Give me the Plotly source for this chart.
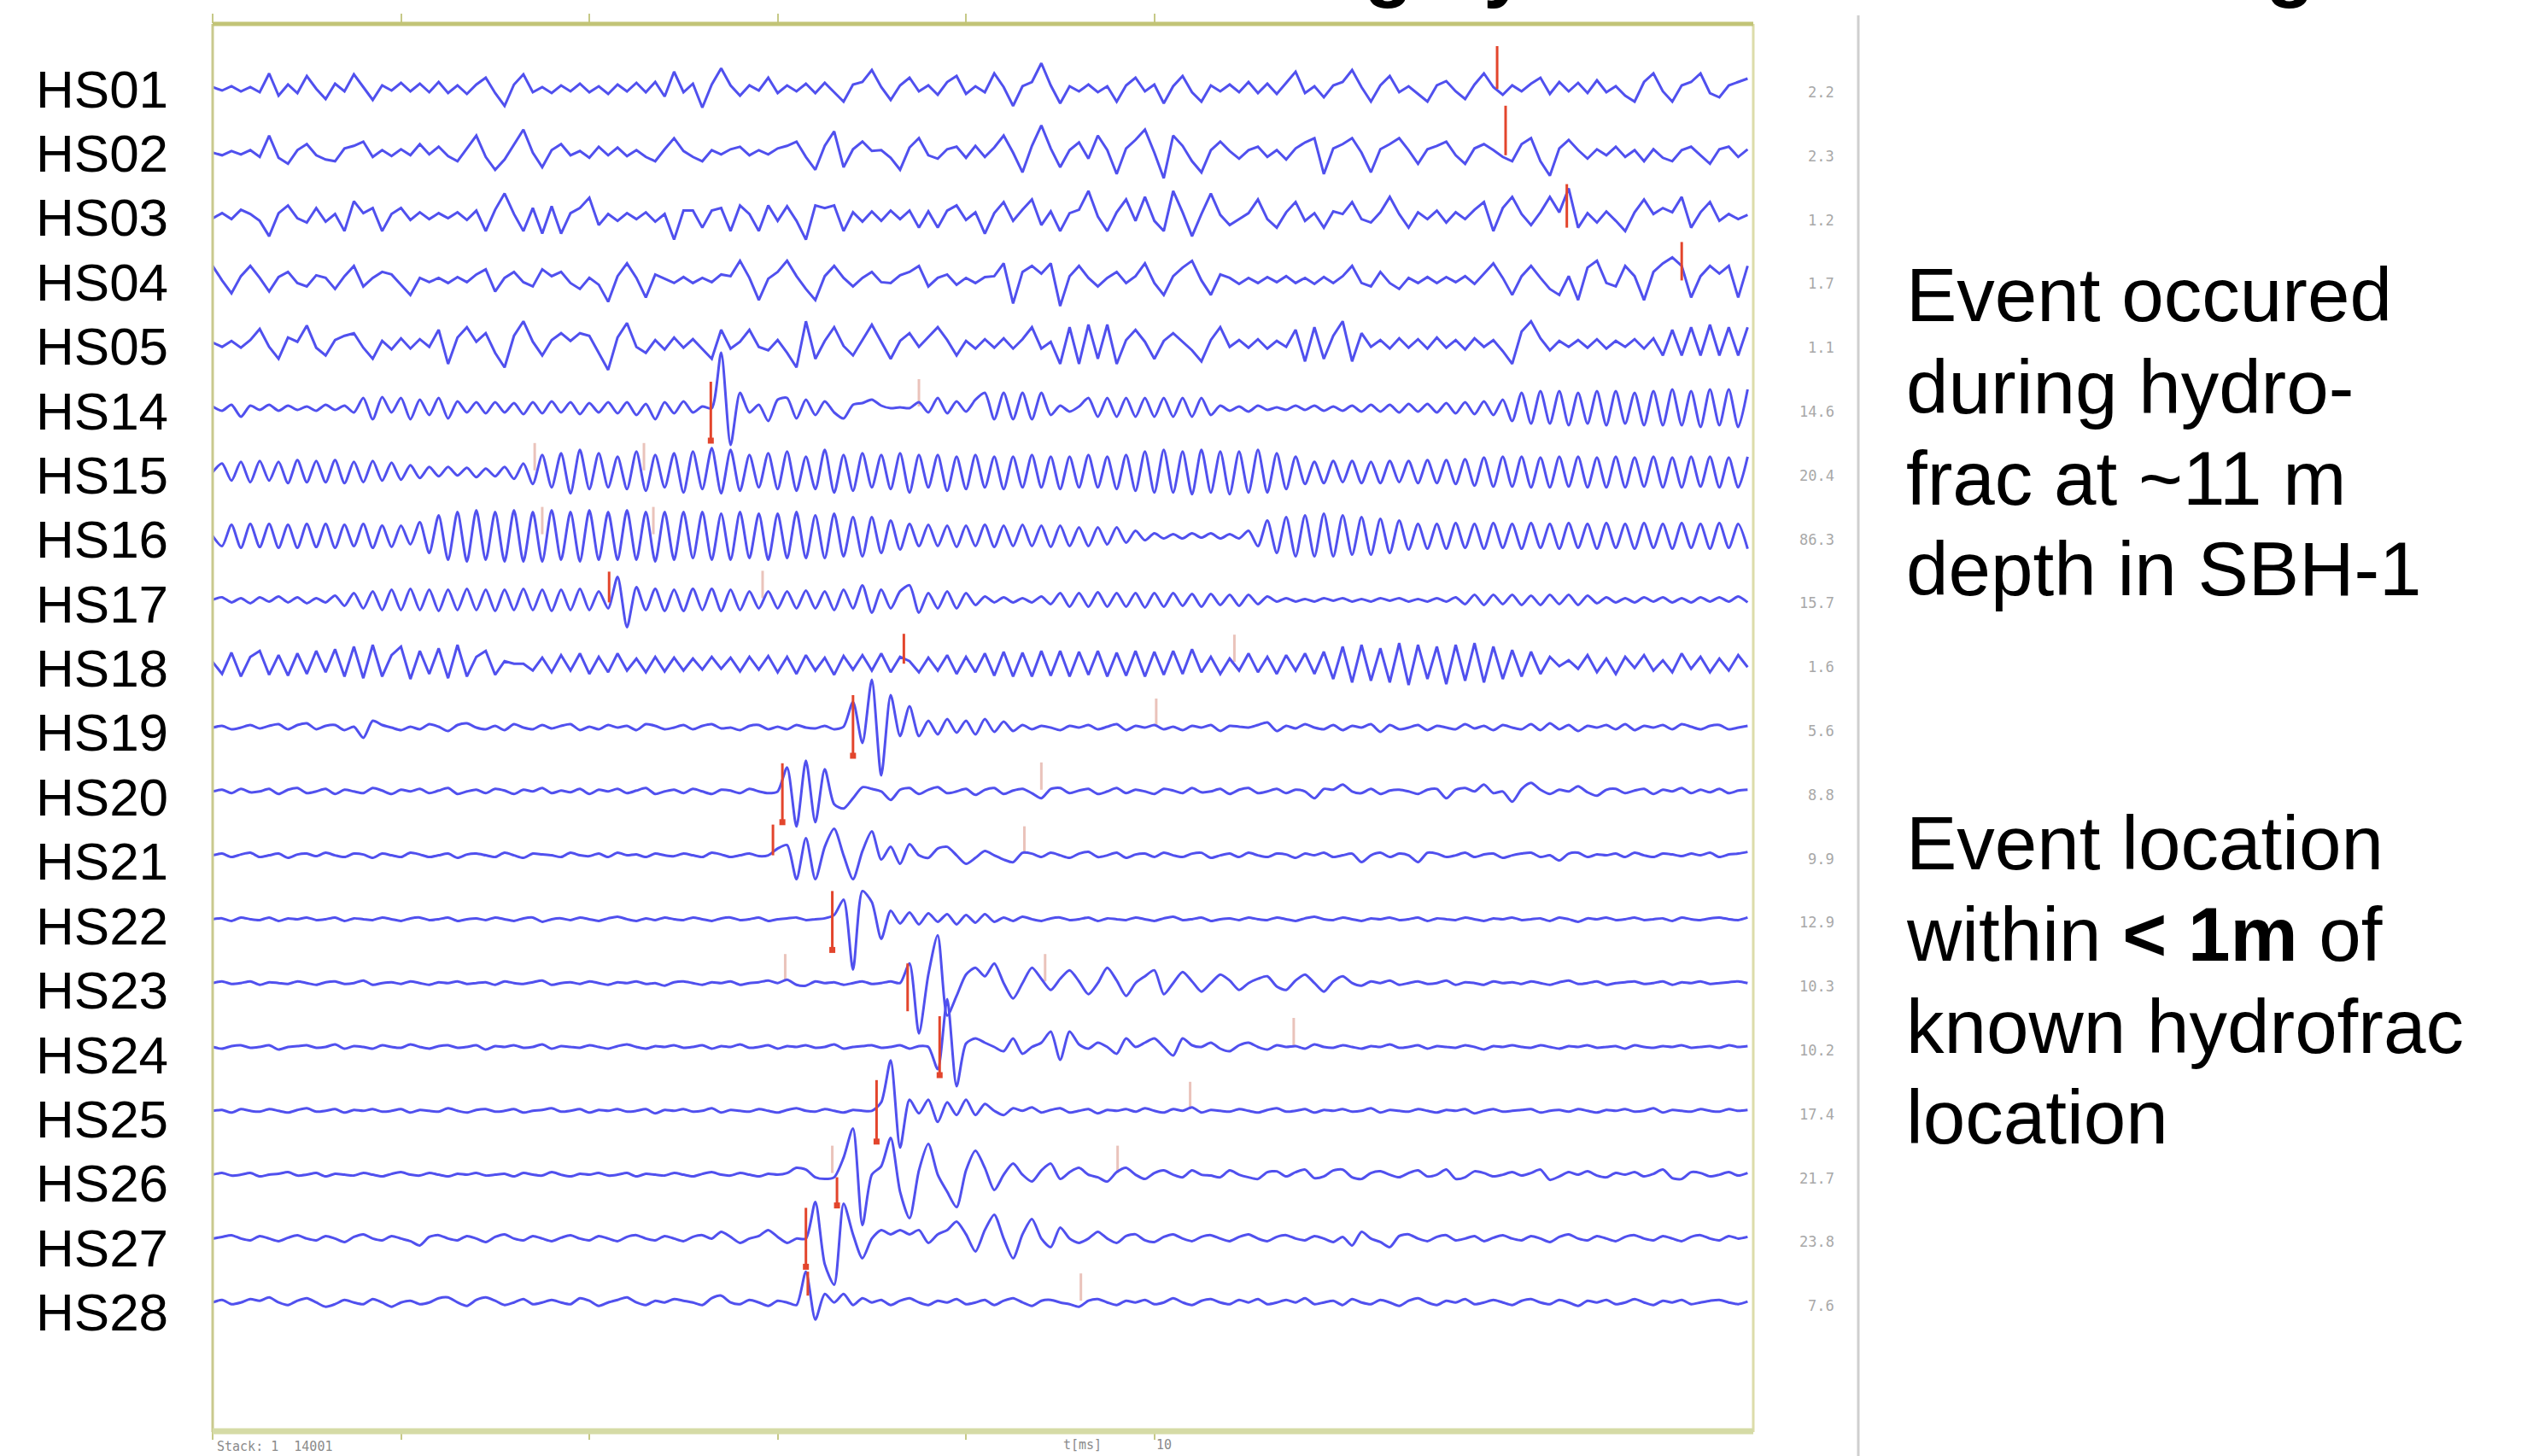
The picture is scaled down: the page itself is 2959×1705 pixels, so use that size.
import numpy as np
import plotly.graph_objects as go

W, H = 2959, 1705

# ---------------------------------------------------------------- data
CHANNELS = ["HS01", "HS02", "HS03", "HS04", "HS05", "HS14", "HS15", "HS16", "HS17", "HS18",
            "HS19", "HS20", "HS21", "HS22", "HS23", "HS24", "HS25", "HS26", "HS27", "HS28"]
AMP_LABELS = ["2.2", "2.3", "1.2", "1.7", "1.1", "14.6", "20.4", "86.3", "15.7", "1.6",
              "5.6", "8.8", "9.9", "12.9", "10.3", "10.2", "17.4", "21.7", "23.8", "7.6"]
T_END = 16.3      # time of last sample, ms
X_MAX = 16.36     # right edge of the record, ms
TIME_TICKS = [0, 2, 4, 6, 8, 10]

# trace samples, 0.1 ms apart (display amplitude units)
HS01 = [2, -2, 3, -3, 2, -4, 18, -8, 5, -5,
        15, 0, -12, 6, -3, 17, 2, -13, 4, -2,
        7, -3, 6, -4, 8, -5, 4, -6, 5, 13,
        -5, -20, 5, 17, -4, 2, -5, 4, -3, 6,
        -4, 3, -6, 5, -3, 7, -4, 8, -9, 20,
        -4, 6, -22, 5, 24, 4, -8, 4, -2, 13,
        -5, 4, -3, 6, -5, 7, -4, -15, 5, 8,
        22, 2, -13, 4, 13, -3, 4, -7, 8, 15,
        -6, 3, -4, 18, 2, -20, 3, 8, 30, 4,
        -17, 3, -3, 5, -4, 3, -15, 4, 13, -3,
        5, -17, 3, 15, -4, -15, 4, -3, 5, -4,
        8, -5, 6, -6, 7, 20, -5, 3, -10, 4,
        8, 22, 2, -15, 4, 15, -4, 3, -6, -15,
        4, 9, -3, -12, 5, 18, 2, -7, 4, -3,
        6, 13, -6, 8, -3, 7, -5, 10, -4, 3,
        -8, -15, 8, 18, -3, -15, 4, 8, 18, -5,
        -10, 4, 8, 12]
HS02 = [0, -3, 2, -2, 3, -5, 20, -6, -13, 3,
        10, -3, -8, -10, 5, 8, 13, -5, 3, -4,
        4, -3, 10, -2, 7, -4, -10, 5, 20, -5,
        -20, -8, 10, 27, 0, -17, 3, 10, -3, 2,
        -6, 7, -3, 6, -4, 3, -5, -10, 4, 17,
        2, -5, -10, 3, -2, 4, 7, -3, 3, -2,
        5, 8, 13, -5, -20, 8, 25, -17, 4, 13,
        2, 3, -6, -20, 6, 17, -3, -7, 4, 7,
        -6, 8, -5, 6, 20, 0, -23, 8, 32, 5,
        -17, 3, 12, -7, 20, 3, -25, 5, 15, 27,
        0, -30, 20, 8, -10, -23, 3, 13, 2, -7,
        3, 7, -5, 3, -8, 5, 12, 17, -25, 5,
        10, 17, 0, -23, 4, 10, 17, 3, -13, 4,
        8, 13, -3, -13, 5, 10, 3, -5, -10, 10,
        17, -10, -27, 5, 15, 3, -7, 4, -3, 7,
        -5, 3, -10, 4, -6, -10, 3, 7, -3, -13,
        4, 7, -5, 4]
HS03 = [-2, 4, -3, 8, 3, -5, -23, 4, 13, -2,
        -7, 10, -6, 3, -17, 18, 4, 10, -17, 3,
        10, -4, 5, -3, 4, -2, 5, -4, 7, -17,
        8, 27, 3, -17, 10, -20, 12, -20, 4, 10,
        22, -10, 3, -5, 4, -3, 5, -6, 3, -27,
        7, 7, -13, 7, 10, -17, 13, 3, -17, 13,
        -5, 12, -5, -27, 13, 10, 13, -17, 5, -6,
        6, -5, 7, -3, 7, -13, 6, -13, 7, 13,
        -4, 5, -20, 4, 17, -5, 8, 20, -10, 6,
        -17, 4, 8, 30, 0, -17, 5, 20, -5, 23,
        -5, -17, 30, 5, -23, 3, 27, 2, -10, -3,
        4, 20, -3, -13, 5, 17, -5, 4, -13, 6,
        3, 17, -3, -7, 5, 23, 3, -13, 5, -3,
        7, -7, 5, -3, 8, 17, -17, 10, 23, 3,
        -10, 5, 23, 5, 33, -13, 4, -7, 6, -5,
        -17, 5, 20, 3, 10, 5, 23, -13, 5, 17,
        -5, 3, -3, 2]
HS04 = [17, 0, -15, 5, 17, 3, -13, 4, 10, -3,
        -7, 6, 3, -10, 5, 17, -7, 3, 10, 7,
        -5, -17, 3, -2, 3, -3, 4, -2, 7, 13,
        -13, 3, 10, -2, -7, 13, 5, 10, -3, -10,
        3, -5, -25, 5, 20, 3, -20, 7, 2, -3,
        4, -3, 3, -2, 7, 5, 23, 3, -23, 2,
        10, 23, 5, -10, -23, 5, 17, 3, -7, 3,
        10, -2, -3, 6, 10, 17, -7, 3, 7, -5,
        3, -3, 4, 5, 20, -27, 10, 17, 8, 20,
        -30, 5, 17, 3, -7, 3, 10, -3, 5, 20,
        -3, -17, 5, 15, 23, 0, -17, 7, 3, -4,
        3, -3, 4, -2, 5, -3, 3, -4, 4, -3,
        5, 17, -3, -7, 10, -3, -10, 3, -3, 4,
        -3, 4, -2, 5, -4, 8, 20, 3, -17, 5,
        17, 3, -10, -17, 5, -23, 15, 23, -3, -7,
        17, 5, -23, 10, 20, 27, 17, -20, 5, 17,
        8, 17, -20, 17]
HS05 = [2, -3, 4, -4, 5, 18, -3, -17, 8, 3,
        22, -4, -13, 5, 10, 13, -4, -17, 4, -6,
        7, -5, 6, -3, 17, -23, 8, 20, 3, 13,
        -10, -27, 10, 27, 3, -13, 5, 13, 4, 13,
        10, -10, -30, 8, 25, -3, -10, 5, -6, 8,
        -4, 6, -5, -17, 17, -5, 3, 17, -3, -7,
        5, -10, -27, 27, -17, 4, 20, -2, -13, 5,
        23, 3, -17, 4, 13, -3, 8, 20, 5, -13,
        4, -5, 6, -4, 7, -5, 6, 20, -5, 3,
        -23, 20, -23, 23, -17, 23, -23, 5, 17, 3,
        -17, 4, 13, 3, -7, -20, 5, 20, -3, 5,
        -4, 6, -5, 4, -3, 17, -20, 20, -17, 10,
        27, -20, 13, -3, 5, -5, 7, -4, 6, -5,
        8, -4, 5, -6, 7, -3, 5, -8, -23, 15,
        27, 7, -7, 4, -3, 5, -4, 6, -5, 4,
        -3, 6, -5, 7, -13, 17, -13, 20, -13, 23,
        -13, 20, -13, 20]
HS14 = [2, -3, 4, -10, 3, -2, 4, -3, 3, -2,
        2, -3, 4, -2, 3, -5, 12, -13, 13, -5,
        12, -13, 10, -8, 12, -12, 8, -5, 7, -6,
        7, -5, 6, -7, 7, -6, 8, -5, 7, -7,
        6, -5, 7, -6, 7, -8, 5, -13, 7, -6,
        8, -5, 2, 0, 65, -43, 18, -5, 4, -15,
        10, 12, -12, 10, -8, 8, -5, -12, 4, 6,
        10, 3, 0, 1, 0, 7, -5, 12, -6, 8,
        -4, 10, 18, -13, 18, -13, 18, -13, 18, -8,
        3, -4, 2, 12, -10, 12, -10, 12, -10, 12,
        -10, 12, -10, 12, -10, 12, -8, 3, -3, 2,
        -4, 3, -2, 1, -2, 3, -2, 3, -3, 2,
        -3, 3, -4, 4, -4, 4, -5, 5, -4, 5,
        -5, 6, -6, 7, -7, 8, -8, 10, -15, 18,
        -18, 20, -18, 20, -20, 18, -18, 20, -20, 20,
        -18, 18, -20, 20, -20, 22, -20, 20, -22, 22,
        -20, 22, -22, 22]
HS15 = [0, 10, -10, 12, -12, 13, -10, 12, -13, 14,
        -12, 13, -12, 14, -13, 12, -12, 13, -10, 11,
        -9, 8, -7, 6, -5, 6, -4, 5, -6, 4,
        -5, 6, -8, 10, -14, 20, -18, 22, -25, 26,
        -20, 22, -18, 18, -20, 24, -22, 20, -18, 22,
        -24, 24, -20, 28, -25, 26, -22, 20, -18, 22,
        -20, 24, -22, 18, -20, 26, -24, 20, -22, 22,
        -18, 20, -20, 22, -24, 20, -18, 20, -22, 18,
        -20, 20, -18, 18, -20, 18, -18, 20, -18, 18,
        -20, 18, -18, 20, -18, 18, -20, 20, -22, 24,
        -24, 26, -24, 24, -26, 26, -24, 24, -26, 24,
        -24, 26, -24, 22, -20, 18, -14, 12, -13, 13,
        -12, 13, -13, 12, -13, 13, -12, 13, -13, 14,
        -13, 14, -14, 15, -16, 17, -17, 18, -17, 18,
        -18, 17, -18, 18, -17, 18, -18, 17, -18, 18,
        -18, 17, -17, 18, -18, 17, -18, 18, -17, 18,
        -18, 17, -18, 18]
HS16 = [0, -12, 13, -14, 14, -13, 14, -14, 13, -14,
        14, -13, 14, -14, 13, -12, 14, -14, 12, -13,
        12, -10, 16, -20, 24, -28, 28, -30, 30, -28,
        28, -30, 30, -30, 28, -30, 30, -28, 28, -30,
        30, -28, 28, -28, 30, -28, 28, -30, 28, -28,
        28, -26, 28, -28, 26, -28, 28, -26, 26, -28,
        26, -26, 28, -26, 24, -26, 26, -24, 22, -24,
        22, -20, 18, -16, 14, -12, 13, -12, 12, -13,
        12, -12, 13, -13, 12, -12, 13, -12, 12, -13,
        12, -12, 10, -12, 10, -10, 10, -8, 6, -5,
        3, -3, 2, -3, 3, -2, 3, -3, 2, -3,
        6, -12, 18, -20, 22, -24, 24, -24, 26, -24,
        24, -22, 22, -22, 20, -20, 18, -16, 14, -15,
        14, -15, 15, -14, 14, -15, 15, -14, 14, -15,
        15, -14, 14, -15, 15, -14, 14, -15, 15, -14,
        14, -15, 15, -14, 14, -15, 15, -14, 14, -15,
        15, -14, 14, -15]
HS17 = [0, 3, -3, 2, -4, 3, -2, 4, -3, 3,
        -4, 2, -3, 5, -7, 8, -10, 10, -12, 12,
        -12, 13, -12, 12, -13, 12, -12, 13, -12, 12,
        -13, 12, -12, 13, -12, 12, -13, 12, -12, 13,
        -12, 10, -10, 27, -32, 15, -12, 13, -13, 12,
        -13, 13, -12, 13, -13, 12, -12, 10, -10, 10,
        -10, 10, -10, 11, -10, 10, -12, 12, -10, 17,
        -15, 12, -10, 10, 17, -15, 8, -10, 10, -10,
        8, -6, 4, -3, 3, -3, 2, -3, 4, -5,
        8, -8, 8, -8, 9, -8, 8, -8, 8, -9,
        8, -8, 8, -7, 7, -8, 7, -6, 6, -7,
        6, -5, 4, -2, 2, -2, 1, -2, 2, -1,
        2, -2, 1, -2, 2, -1, 2, -2, 1, -2,
        2, -2, 3, -5, 6, -6, 6, -5, 6, -6,
        5, -6, 6, -5, 6, -6, 5, -4, 3, -3,
        2, -3, 3, -2, 3, -3, 2, -3, 3, -2,
        3, -2, 4, -3]
HS18 = [2, -12, 13, -15, 8, 15, -13, 10, -14, 12,
        -12, 15, -10, 17, -15, 20, -17, 22, -15, 10,
        20, -18, 15, -12, 18, -17, 22, -15, 8, 15,
        -13, 3, 0, 0, -8, 7, -10, 10, -8, 12,
        -12, 8, -10, 12, -8, 6, -10, 8, -9, 7,
        -8, 6, -7, 8, -6, 7, -9, 8, -7, 9,
        -10, 8, -12, 10, -8, 7, -13, 9, -7, 10,
        -8, 12, -10, 8, 3, -10, 7, -8, 10, -12,
        8, -10, 12, -14, 14, -15, 13, -15, 15, -14,
        15, -15, 14, -13, 15, -15, 13, -14, 15, -15,
        14, -13, 15, -12, 17, -10, 8, -12, 6, -8,
        12, -10, 8, -12, 10, -8, 12, -12, 14, -18,
        20, -22, 22, -20, 18, -22, 24, -25, 22, -18,
        20, -24, 22, -20, 24, -22, 20, -18, 16, -15,
        14, -12, 8, -3, 4, -6, 10, -10, 6, -12,
        8, -5, 10, -8, 4, -10, 12, -6, 8, -10,
        6, -8, 10, -4]
HS19 = [0, 2, -2, 0, 3, -1, 2, 4, -2, 3,
        5, -2, 2, 3, -3, 1, -12, 8, 3, 0,
        -3, 1, -2, 4, 1, -4, 3, 5, 0, -2,
        2, -3, 4, 0, -2, 3, -1, 2, 4, -3,
        1, -2, 3, 0, 2, -3, 4, 2, -2, 0,
        3, -2, 2, 4, -1, 0, -3, 2, 3, -2,
        1, -2, 3, 0, -1, 2, -2, 1, 30, -18,
        56, -56, 38, -10, 25, -10, 8, -8, 10, -6,
        8, -8, 10, -5, 7, -4, 3, -2, 2, 0,
        -3, 2, 0, 3, -2, 1, 4, -3, 2, 0,
        3, -2, 1, -3, 2, 0, 3, -4, 2, 1,
        0, 3, 6, -4, 2, -1, 4, 0, -2, 3,
        -3, 2, 0, 4, -5, 3, -2, 0, 3, -3,
        2, 0, -2, 4, -1, 2, -3, 3, 0, -2,
        4, -3, 5, -2, 3, -4, 2, 0, 3, -2,
        4, -3, 2, 0, 3, -2, 4, 1, -2, 2,
        3, -2, 0, 2]
HS20 = [0, 2, -2, 3, -1, 0, 3, -3, 2, 4,
        -2, 0, 3, -3, 2, 0, -2, 4, 1, -3,
        2, 0, 3, -2, 1, 4, -3, 0, 2, -2,
        3, 1, -3, 2, 0, 4, -2, 1, -1, 3,
        -3, 2, 0, 3, -2, 1, 4, -3, 0, 2,
        -2, 3, 0, -3, 2, 1, -2, 3, 0, -2,
        0, 28, -41, 36, -36, 26, -15, -20, -8, 5,
        3, 0, -10, 2, 4, -3, 2, 5, -2, 0,
        3, -4, 2, 4, -3, 1, 3, -2, -8, 3,
        4, -2, 1, 3, -3, 0, 4, -2, 2, 0,
        -3, 3, 1, -2, 4, -1, 0, 3, -3, 2,
        4, -2, 0, 3, -2, 2, 0, -8, 3, 2,
        8, 0, -2, 3, -3, 1, 2, 0, -3, 2,
        3, -8, 2, 4, 0, 8, -2, 0, -12, 3,
        10, 2, -3, 2, 0, 6, -1, -5, 2, 3,
        -2, 1, 3, -3, 2, 0, 4, -2, 2, -1,
        3, -2, 1, 2]
HS21 = [0, 2, -2, 1, 3, -2, 0, 2, -3, 1,
        2, -1, 3, 0, -2, 2, 1, -3, 2, 0,
        -2, 3, 1, -2, 0, 2, -3, 1, 2, 0,
        -2, 3, 0, -3, 2, 1, 0, -2, 3, 0,
        -1, 2, -2, 3, 0, 1, -2, 2, 0, -1,
        2, 0, -2, 3, 1, -2, 0, 2, -1, 0,
        8, 12, -28, 20, -28, 10, 31, 0, -28, 5,
        28, -5, 10, -10, 13, 0, -3, 8, 10, 0,
        -10, -3, 5, 0, -5, -8, 3, 2, -2, 3,
        0, -3, 2, 4, -2, 0, 3, -3, 1, 2,
        -2, 3, 0, -2, 2, 3, -3, 0, 2, -2,
        3, 0, -2, 2, 1, -3, 2, 0, 3, -2,
        0, 2, -8, 0, 3, -2, 2, 0, -8, 3,
        2, -2, 0, 3, -2, 1, 2, -3, 0, 2,
        3, -2, 0, -6, 2, 3, -2, 1, 0, 2,
        -2, 3, 0, -2, 2, 1, -1, 2, 0, 3,
        -2, 1, 2, 4]
HS22 = [0, 1, -2, 2, 0, -1, 2, -2, 1, 0,
        2, -1, 0, 2, -2, 1, 0, -1, 2, 0,
        -2, 1, 2, -1, 0, 2, -2, 0, 1, -1,
        2, 0, -2, 1, 2, -3, 0, 1, -1, 2,
        0, -2, 1, 3, 0, -2, 1, -1, 2, 0,
        -1, 2, 0, -2, 1, 2, -1, 0, 2, -2,
        0, 1, 2, -1, 0, 1, 5, 23, -59, 33,
        20, -23, 10, -5, 8, -6, 7, -3, 6, -6,
        5, -4, 6, -3, 2, -2, 3, 0, -2, 1,
        2, -1, 0, 2, -2, 1, 0, -1, 2, 0,
        -2, 1, 3, -1, 0, 2, -2, 0, 1, -1,
        2, 0, -1, 2, 0, -2, 1, 3, 0, -1,
        2, 0, -2, 1, 0, 2, -1, 0, 2, -2,
        1, 0, -1, 2, 0, -2, 1, 0, 2, -1,
        0, 1, -2, 2, 0, -3, 1, 0, 2, -1,
        0, 2, -1, 0, 1, -2, 2, 0, -1, 1,
        2, 0, -1, 2]
HS23 = [0, 2, -1, 0, 2, -2, 1, 0, -1, 2,
        0, -2, 1, 2, -1, 0, 3, -2, 0, 1,
        -1, 2, 0, -2, 1, 0, 2, -1, 0, 1,
        -2, 2, 0, -1, 1, 3, -2, 0, 1, -1,
        2, 0, -2, 1, 0, 2, -1, 0, -3, 1,
        2, 0, -2, 1, 0, 2, -2, 0, 1, 3,
        0, 4, -2, -3, 2, 0, 1, -2, 0, 2,
        -1, 0, 2, 0, 23, -59, 10, 56, -38, -15,
        10, 18, 8, 23, 0, -18, 0, 18, 5, -8,
        5, 15, 2, -13, 0, 18, 3, -15, 0, 8,
        15, -13, 0, 13, 2, -10, 0, 10, 3, -8,
        0, 5, 8, -4, -8, 3, 10, 0, -10, 2,
        8, 0, -3, 2, 0, 3, -2, 0, 2, -1,
        0, 3, -2, 1, 0, -2, 2, 0, 1, -1,
        2, 0, -2, 1, 3, -1, 0, 2, -2, 0,
        1, 2, -1, 0, 2, -2, 1, 0, 2, -1,
        0, 1, 2, 0]
HS24 = [0, -2, 1, 2, -1, 0, 2, -3, 0, 1,
        2, -1, 0, 3, -2, 1, 0, -2, 2, 0,
        -1, 3, 0, -2, 1, 2, -1, 0, 2, -3,
        1, 0, 2, -1, 0, 3, -2, 1, 0, -1,
        2, 0, -2, 1, 3, 0, -2, 1, 0, 2,
        -1, 0, 2, -2, 1, 0, 3, -1, 0, 2,
        -2, 1, 0, 2, -1, 0, 3, -2, 0, 1,
        2, -1, 0, 2, -2, 1, 0, -26, 56, -46,
        4, 10, 5, 0, -5, 10, -8, 0, 5, 18,
        -15, 18, 3, -2, 5, 0, -8, 10, 0, 5,
        10, 0, -10, 10, 2, 0, 5, -2, -5, 2,
        5, 0, -3, 2, 0, 1, -2, 3, 0, -1,
        2, 0, -2, 1, 0, 3, -1, 0, 2, -2,
        1, 0, -1, 2, 0, -3, 1, 0, 2, 0,
        -1, 2, 0, -2, 1, 0, 2, -1, 0, 1,
        -2, 2, 0, -1, 1, 0, 2, -1, 0, 1,
        -1, 2, 0, 1]
HS25 = [0, 1, -2, 2, 0, -1, 2, 0, -2, 1,
        3, -1, 0, 2, -2, 1, 0, 2, -1, 0,
        2, -2, 1, 0, -1, 3, 0, -2, 1, 2,
        -1, 0, 2, -2, 0, 1, 3, -1, 0, 2,
        -2, 1, 0, 2, -1, 0, 2, -3, 1, 0,
        2, -1, 0, 3, -2, 1, 0, -1, 2, 0,
        -2, 1, 3, 0, -1, 2, 0, -2, 1, 0,
        0, 10, 59, -43, 13, -3, 13, -13, 10, -5,
        13, -5, 8, 0, -5, 3, 0, 4, -2, 1,
        3, -2, 0, 2, -3, 1, 0, 2, -1, 3,
        0, -2, 2, 0, 4, -2, 1, 0, -1, 2,
        0, -2, 1, 3, -1, 0, 2, -2, 1, 0,
        2, -1, 0, 3, -2, 1, 0, -1, 2, 0,
        -2, 1, 0, 2, -3, 0, 2, -1, 0, 1,
        2, -2, 0, 1, -1, 2, 0, -2, 1, 0,
        2, -1, 0, 3, -2, 1, 0, -1, 2, 0,
        -1, 2, 0, 1]
HS26 = [0, 2, -1, 0, 2, -2, 0, 1, 3, -1,
        0, 2, -2, 1, 0, -1, 2, 0, -2, 1,
        3, 0, -1, 2, 0, -2, 1, 0, 2, -1,
        0, 1, -2, 2, 0, -1, 3, 0, -2, 1,
        0, 2, -1, 0, 2, -2, 1, 0, -1, 2,
        0, -2, 1, 3, 0, -1, 2, 0, -2, 1,
        0, 2, 8, 6, -3, -5, -3, 20, 54, -59,
        0, 10, 43, -20, -51, 5, 36, 0, -20, -38,
        5, 28, 8, -18, 0, 13, 0, -8, 5, 13,
        -5, 3, 8, 0, -3, -8, 3, 8, 0, -5,
        2, 5, 0, -3, 5, 0, -1, -3, 5, 0,
        -3, -5, 3, 4, -2, 3, 6, -4, -2, 5,
        6, -3, -5, 2, 4, 0, -3, 2, 5, -2,
        0, 6, -5, -3, 4, 2, -2, 0, 3, -1,
        2, 6, -6, -2, 3, 0, 4, -1, -3, 2,
        0, 3, -2, 1, 6, -4, -5, 3, 2, -2,
        0, 3, -1, 2]
HS27 = [0, 2, 4, 0, -2, 3, 0, -3, 1, 4,
        0, -2, 3, 0, -4, 2, 5, 0, -2, 3,
        0, -3, -8, 2, 4, 0, -2, 3, 0, -4,
        2, 5, 0, -2, 3, 0, -3, 1, 4, 0,
        -2, 3, 0, -3, 2, 4, 0, -2, 3, 0,
        -3, 2, 4, 0, 8, 2, -5, 0, 3, 10,
        2, -5, 0, 0, 43, -30, -54, 41, 5, -23,
        0, 10, 5, 10, 5, 10, -5, 5, 10, 20,
        5, -15, 10, 28, 0, -23, 5, 23, 0, -10,
        13, 0, -5, 0, 8, 0, -5, 3, 5, -2,
        -4, 2, 5, 0, -3, 2, 4, 0, -3, 2,
        5, 0, -3, 2, 4, 0, -2, 3, 0, -4,
        2, -8, 8, 0, -4, -10, 3, 5, 0, -3,
        2, 4, -2, 0, 3, -3, 1, 4, 0, -2,
        3, 0, -4, 2, 5, 0, -2, 3, 0, -3,
        2, 4, 0, -2, 3, 0, -3, 2, 4, 0,
        -2, 3, 0, 2]
HS28 = [0, 3, -2, 0, 4, 2, 6, 0, -3, 2,
        5, 0, -5, -2, 3, 0, -2, 4, 0, -5,
        0, 2, -2, 0, 5, 6, 0, -4, 3, 6,
        2, -3, 0, 4, -2, 0, 3, 0, -2, 5,
        2, -4, 0, 3, 6, 0, -3, 2, 0, 4,
        2, 0, -3, 5, 8, 0, -2, 3, 0, -4,
        2, 0, -3, 36, -20, 10, 0, 10, -3, 5,
        0, 3, -3, 2, 5, 0, -3, 2, 0, 4,
        -2, 0, 3, -3, 2, 5, 0, -4, 2, 3,
        0, -2, -5, 2, 4, 0, -3, 2, 0, 3,
        -2, 0, 5, 0, -3, 2, 4, 0, -2, 3,
        0, 4, -2, 0, 3, 0, 5, -2, 0, 2,
        -3, 4, 0, -2, 3, 0, -4, 2, 5, 0,
        -3, 2, 0, 4, -2, 0, 3, 0, -3, 2,
        4, 0, -2, 3, 0, -4, 2, 0, 3, -2,
        0, 4, 0, -3, 2, 0, 3, -2, 0, 2,
        3, 0, -2, 1]

WAVES = [HS01, HS02, HS03, HS04, HS05, HS14, HS15, HS16, HS17, HS18,
         HS19, HS20, HS21, HS22, HS23, HS24, HS25, HS26, HS27, HS28]

# arrival picks (ms), with the extent of each pick bar above/below the trace
PICK_CHANNEL = ["HS01", "HS02", "HS03", "HS04", "HS14", "HS17", "HS18", "HS19", "HS20",
                "HS21", "HS22", "HS23", "HS24", "HS25", "HS26", "HS27", "HS28"]
PICK_TIME = [13.64, 13.73, 14.38, 15.60, 5.29, 4.21, 7.34, 6.80, 6.05,
             5.95, 6.58, 7.38, 7.72, 7.05, 6.63, 6.30, 6.32]
PICK_TOP = [50, 55, 38, 45, 31, 33, 35, 38, 33, 36, 33, 23, 36, 36, -3, 36, 36]
PICK_BOTTOM = [0, -3, -13, 0, -38, -3, 0, -33, -36, 0, -36, -33, -33, -36, -36, -33, 8]
PICK_DOT = [False, False, False, False, True, False, False, True, True,
            False, True, False, True, True, True, True, False]

# secondary (faint) picks
FAINT_CHANNEL = ["HS14", "HS15", "HS15", "HS16", "HS16", "HS17", "HS18", "HS19", "HS20",
                 "HS21", "HS23", "HS23", "HS24", "HS25", "HS26", "HS26", "HS28"]
FAINT_TIME = [7.50, 3.42, 4.58, 3.50, 4.68, 5.84, 10.85, 10.02, 8.80,
              8.62, 6.08, 8.84, 11.48, 10.38, 6.58, 9.61, 9.22]

# ---------------------------------------------------------------- geometry helpers
SPACING = 74.8          # vertical distance between traces, amplitude units
PLOT_L, PLOT_R = 249, 2053
PLOT_T, PLOT_B = 28, 1674
FIRST_BASE = 104


def px_x(p):
    return p / W


def px_y(p):
    return 1 - p / H


BLUE = "#5050ee"
RED = "#e3452c"
FAINT = "#eac3bb"
OLIVE = "#c6c987"

fig = go.Figure()

# faint picks behind the traces
fx, fy = [], []
for ch, t in zip(FAINT_CHANNEL, FAINT_TIME):
    base = -CHANNELS.index(ch) * SPACING
    fx += [t, t, None]
    fy += [base + 34, base + 2, None]
fig.add_trace(go.Scatter(x=fx, y=fy, mode="lines", line=dict(color=FAINT, width=3),
                         hoverinfo="skip", showlegend=False))

# seismogram traces
for k, (name, wave) in enumerate(zip(CHANNELS, WAVES)):
    t = np.linspace(0, T_END, len(wave))
    y = np.asarray(wave, dtype=float) - k * SPACING
    smooth = k >= 5 and name != "HS18"
    fig.add_trace(go.Scatter(
        x=t, y=y, mode="lines", name=name,
        line=dict(color=BLUE, width=3,
                  shape="spline" if smooth else "linear", smoothing=0.7),
        hoverinfo="skip", showlegend=False))

# picks over the traces
px_, py_, dx, dy = [], [], [], []
for ch, t, top, bot, dot in zip(PICK_CHANNEL, PICK_TIME, PICK_TOP, PICK_BOTTOM, PICK_DOT):
    base = -CHANNELS.index(ch) * SPACING
    px_ += [t, t, None]
    py_ += [base + top, base + bot, None]
    if dot:
        dx.append(t)
        dy.append(base + bot)
fig.add_trace(go.Scatter(x=px_, y=py_, mode="lines", line=dict(color=RED, width=3),
                         hoverinfo="skip", showlegend=False))
fig.add_trace(go.Scatter(x=dx, y=dy, mode="markers",
                         marker=dict(color=RED, size=7, symbol="square"),
                         hoverinfo="skip", showlegend=False))
# empty trace that carries the top time axis
fig.add_trace(go.Scatter(x=[], y=[], xaxis="x2", yaxis="y", showlegend=False))

y_lo = -(PLOT_B - FIRST_BASE)
y_hi = FIRST_BASE - PLOT_T

fig.update_layout(
    width=W, height=H, margin=dict(l=0, r=0, t=0, b=0),
    paper_bgcolor="white", plot_bgcolor="white",
    xaxis=dict(domain=[px_x(PLOT_L), px_x(PLOT_R)], range=[0, X_MAX],
               showgrid=False, zeroline=False, showline=False,
               ticks="outside", tickvals=TIME_TICKS, ticklen=11, tickwidth=2,
               tickcolor=OLIVE, showticklabels=False, anchor="y"),
    xaxis2=dict(overlaying="x", matches="x", side="top", anchor="y",
                showgrid=False, zeroline=False, showline=False,
                ticks="outside", tickvals=TIME_TICKS, ticklen=11, tickwidth=2,
                tickcolor=OLIVE, showticklabels=False),
    yaxis=dict(domain=[px_y(PLOT_B), px_y(PLOT_T)], range=[y_lo, y_hi],
               visible=False),
)

shapes = [
    # record frame
    dict(type="line", xref="paper", yref="paper", x0=px_x(PLOT_L), x1=px_x(PLOT_L),
         y0=px_y(PLOT_B + 3), y1=px_y(PLOT_T), line=dict(color="#c9c98e", width=3)),
    dict(type="line", xref="paper", yref="paper", x0=px_x(PLOT_R), x1=px_x(PLOT_R),
         y0=px_y(PLOT_B + 3), y1=px_y(PLOT_T), line=dict(color="#dcdcaa", width=3)),
    dict(type="line", xref="paper", yref="paper", x0=px_x(PLOT_L), x1=px_x(PLOT_R),
         y0=px_y(PLOT_T), y1=px_y(PLOT_T), line=dict(color="#c2c477", width=5)),
    dict(type="line", xref="paper", yref="paper", x0=px_x(PLOT_L), x1=px_x(PLOT_R),
         y0=px_y(PLOT_B + 2), y1=px_y(PLOT_B + 2), line=dict(color="#d5dba6", width=7)),
    # panel divider
    dict(type="line", xref="paper", yref="paper", x0=px_x(2176), x1=px_x(2176),
         y0=0, y1=px_y(18), line=dict(color="#cfcfcf", width=3)),
]
fig.update_layout(shapes=shapes)

ann = []
LABEL_FONT = dict(family="Liberation Sans, Arial, sans-serif", size=62, color="black")
for k, name in enumerate(CHANNELS):
    ann.append(dict(xref="paper", yref="paper", x=px_x(40), y=px_y(FIRST_BASE + k * 75.4),
                    xanchor="left", yanchor="middle", text=name, showarrow=False,
                    font=LABEL_FONT))
for k, lab in enumerate(AMP_LABELS):
    ann.append(dict(xref="paper", yref="paper", x=px_x(2150), y=px_y(FIRST_BASE + 4 + k * SPACING),
                    xanchor="right", yanchor="middle", text=lab, showarrow=False,
                    font=dict(family="DejaVu Sans Mono, monospace", size=17, color="#a8a8a8")))

TEXT_FONT = dict(family="Liberation Sans, Arial, sans-serif", size=89, color="black")
side_lines = [("Event occured", 345), ("during hydro-", 453), ("frac at ~11 m", 560),
              ("depth in SBH-1", 666), ("Event location", 987),
              ("within <b>&lt; 1m</b> of", 1094), ("known hydrofrac", 1202), ("location", 1308)]
for txt, yc in side_lines:
    ann.append(dict(xref="paper", yref="paper", x=px_x(2230), y=px_y(yc),
                    xanchor="left", yanchor="middle", text=txt, showarrow=False,
                    font=TEXT_FONT))

# slide title (runs off the top edge)
ann.append(dict(xref="paper", yref="paper", x=px_x(2712), y=px_y(13),
                xanchor="right", yanchor="bottom",
                text="<b>Seismic Event Recording by Acoustic Monitoring</b>",
                showarrow=False,
                font=dict(family="Liberation Sans, Arial, sans-serif", size=93, color="black")))

SMALL = dict(family="DejaVu Sans Mono, monospace", size=15, color="#8a8a8a")
ann.append(dict(xref="paper", yref="paper", x=px_x(1267), y=px_y(1681), xanchor="center",
                yanchor="top", text="t[ms]", showarrow=False, font=SMALL))
ann.append(dict(xref="x", yref="paper", x=10, y=px_y(1681), xanchor="left",
                yanchor="top", text="10", showarrow=False, font=SMALL))
ann.append(dict(xref="paper", yref="paper", x=px_x(252), y=px_y(1683), xanchor="left",
                yanchor="top", text="Stack: 1  14001", showarrow=False, font=SMALL))

fig.update_layout(annotations=ann)
fig.write_html("out.html")
